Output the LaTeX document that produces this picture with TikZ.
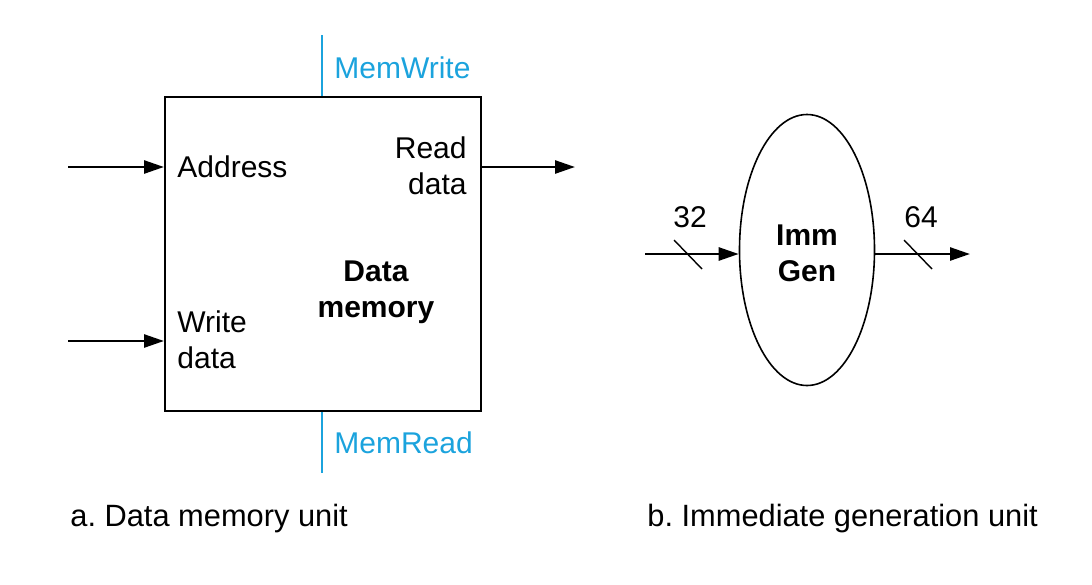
\documentclass[tikz,border=0pt]{standalone}
\usepackage{fontspec}
\setmainfont{Liberation Sans}
\usetikzlibrary{arrows.meta,shapes.geometric}
\definecolor{ctrl}{HTML}{1BA3DD}
\frenchspacing
\begin{document}
\begin{tikzpicture}[x=0.5pt,y=-0.5pt,
  lbl/.style={font=\fontsize{15}{18}\selectfont, inner sep=0pt},
  caplbl/.style={font=\fontsize{15.4}{18}\selectfont, inner sep=0pt},
  blbl/.style={font=\fontsize{15}{18}\selectfont\bfseries, inner sep=0pt, align=center},
  sig/.style={line width=1.3pt,-{Triangle[length=10pt,width=6.5pt]}},
  ctrlline/.style={ctrl, line width=1pt},
  slashline/.style={line width=0.7pt}]
\useasboundingbox (0,0) rectangle (1092,584);

% ---- a. Data memory unit
\node[draw, line width=1pt, minimum width=158pt, minimum height=157pt, inner sep=0pt] (mem) at (323,254) {};
\node[lbl, anchor=west] (addr) at (177,167) {Address};
\node[lbl, anchor=west, align=left] (wdata) at (177,340) {Write\\data};
\node[lbl, anchor=east, align=right] (rdata) at (467,166) {Read\\data};
\node[blbl] (memlbl) at (376,292) {Data\\memory};

\coordinate (addrin) at (68,167);
\coordinate (wdin) at (68,341);
\coordinate (rdout) at (575,167);
\draw[sig] (addrin) -- (addrin -| mem.west);
\draw[sig] (wdin) -- (wdin -| mem.west);
\draw[sig] (rdout -| mem.east) -- (rdout);

\coordinate (mwtop) at (322,35);
\coordinate (mrbot) at (322,473);
\draw[ctrlline] (mwtop) -- (mwtop |- mem.north);
\draw[ctrlline] (mrbot |- mem.south) -- (mrbot);
\node[lbl, text=ctrl, anchor=west] (mw) at (334,68) {MemWrite};
\node[lbl, text=ctrl, anchor=west] (mr) at (334,443) {MemRead};

\node[caplbl, anchor=west] (capa) at (70,519) {a. Data memory unit};

% ---- b. Immediate generation unit
\node[draw, ellipse, line width=0.8pt, minimum width=67.5pt, minimum height=135.5pt, inner sep=0pt] (imm) at (807,250) {};
\node[blbl] (immlbl) at (807,253) {Imm\\Gen};

\coordinate (immin) at (645,254);
\coordinate (immout) at (970,254);
\draw[sig] (immin) -- (immin -| imm.west);
\draw[sig] (immout -| imm.east) -- (immout);

\draw[slashline] (674,240) -- (702,269);
\draw[slashline] (904,240) -- (932,269);
\node[lbl] (n32) at (690,217) {32};
\node[lbl] (n64) at (921,217) {64};

\node[caplbl, anchor=west] (capb) at (647,519) {b. Immediate generation unit};
\end{tikzpicture}
\end{document}
